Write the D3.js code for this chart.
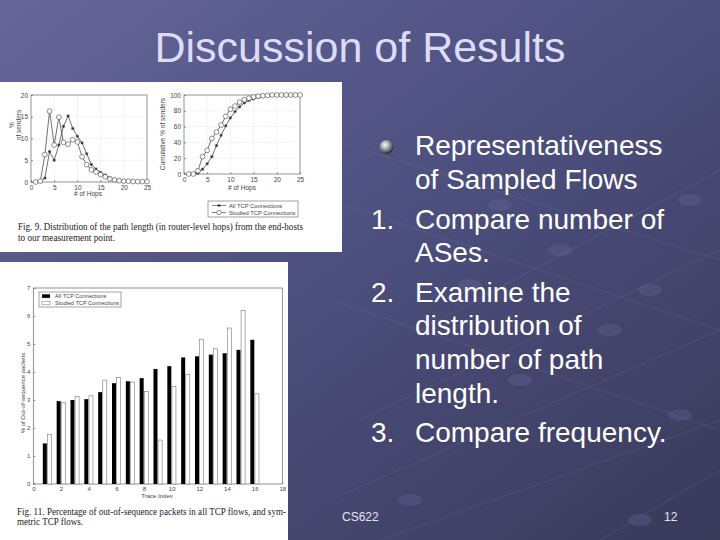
<!DOCTYPE html>
<html><head><meta charset="utf-8">
<script src="https://d3js.org/d3.v7.min.js"></script>
<style>html,body{margin:0;padding:0;background:#44466c;}svg{display:block;}</style>
</head><body>
<script>
// ---------- DATA ----------
const hops = [1,2,3,4,5,6,7,8,9,10,11,12,13,14,15,16,17,18,19,20,21,22,23,24,25];
const pdfAll =     [0,0.2,0.9,7.0,5.0,8.5,12.8,15.2,12.3,10.5,9.0,6.5,4.0,3.0,2.2,1.6,1.0,0.6,0.4,0.3,0.2,0.2,0.1,0.1,0.1];
const pdfStudied = [0,0.2,6.3,16.3,8.5,14.9,9.1,8.7,9.7,9.2,5.8,4.0,2.8,2.3,1.7,1.2,0.7,0.5,0.3,0.2,0.2,0.1,0.1,0.1,0.1];
const cdfAll =     [0,0,1,6,13,22,36,49,61,71,79,85,90,93,95,97,98,99,99.5,100,100,100,100,100,100];
const cdfStudied = [0,0,4,22,30,45,53,62,73,82,86,91,94,96,97.5,98.5,99,99.5,100,100,100,100,100,100,100];
const hopTicks = [0,5,10,15,20,25];
const pdfTicks = [0,5,10,15,20];
const cdfTicks = [0,20,40,60,80,100];
const seriesNames = ["All TCP Connections","Studied TCP Connections"];

const traceIdx = [1,2,3,4,5,6,7,8,9,10,11,12,13,14,15,16];
const barAll =     [1.45,2.96,3.0,3.03,3.28,3.6,3.67,3.78,4.11,4.21,4.52,4.56,4.62,4.67,4.79,5.15];
const barStudied = [1.77,2.92,3.13,3.15,3.71,3.81,3.64,3.31,1.57,3.49,3.92,5.17,4.83,5.57,6.19,3.22];
const traceTicks = [0,2,4,6,8,10,12,14,16,18];
const barTicks = [0,1,2,3,4,5,6,7];

const title = "Discussion of Results";
const bullets = [
  {num:"", lines:["Representativeness","of Sampled Flows"]},
  {num:"1.", lines:["Compare number of","ASes."]},
  {num:"2.", lines:["Examine the","distribution of","number of path","length."]},
  {num:"3.", lines:["Compare frequency."]}
];
const cap9 = ["Fig. 9.   Distribution of the path length (in router-level hops) from the end-hosts","to our measurement point."];
const cap11 = ["Fig. 11.   Percentage of out-of-sequence packets in all TCP flows, and sym-","metric TCP flows."];

// ---------- SVG ----------
const W=720,H=540;
const svg=d3.select("body").append("svg").attr("width",W).attr("height",H);
const defs=svg.append("defs");
const bg=defs.append("linearGradient").attr("id","bg").attr("x1",0).attr("y1",0).attr("x2",1).attr("y2",1);
bg.append("stop").attr("offset",0).attr("stop-color","#66669a");
bg.append("stop").attr("offset",0.45).attr("stop-color","#4e5080");
bg.append("stop").attr("offset",1).attr("stop-color","#383a5a");
svg.append("rect").attr("width",W).attr("height",H).attr("fill","url(#bg)");
const ball=defs.append("radialGradient").attr("id","ball").attr("cx",0.4).attr("cy",0.35).attr("r",0.65);
ball.append("stop").attr("offset",0).attr("stop-color","#ffffff");
ball.append("stop").attr("offset",0.5).attr("stop-color","#9a9aa4");
ball.append("stop").attr("offset",1).attr("stop-color","#2a2a32");

// faint decorative lines
const deco=svg.append("g").attr("stroke","#8a8cb8").attr("stroke-opacity",0.15).attr("stroke-width",1.2).attr("fill","none");
[[330,500,720,330],[360,420,720,250],[420,330,720,170],[380,540,720,420],[600,540,720,470],[330,200,720,330],[330,300,720,430],[300,130,720,260]].forEach(l=>{
  deco.append("line").attr("x1",l[0]).attr("y1",l[1]).attr("x2",l[2]).attr("y2",l[3]);
});
const dots=svg.append("g").attr("fill","#7c7fae").attr("fill-opacity",0.2);
[[410,500],[640,520],[520,380],[610,330],[470,285],[560,250],[680,415],[690,200],[500,205],[650,290]].forEach(p=>{
  dots.append("ellipse").attr("cx",p[0]).attr("cy",p[1]).attr("rx",12).attr("ry",6);
});

// title
svg.append("text").attr("x",360).attr("y",62).attr("text-anchor","middle")
  .attr("font-family","Liberation Sans, Arial, sans-serif").attr("font-size",43)
  .attr("fill","#dcdcf8").text(title);

// bullets
const baselines=[[155,189],[229,262],[302,335,369,403],[442]];
const bg2=svg.append("g").attr("font-family","Liberation Sans, Arial, sans-serif").attr("font-size",28).attr("fill","#ffffff");
bullets.forEach((b,i)=>{
  if(b.num) bg2.append("text").attr("x",371).attr("y",baselines[i][0]).text(b.num);
  else svg.append("circle").attr("cx",386.5).attr("cy",147).attr("r",7).attr("fill","url(#ball)");
  b.lines.forEach((t,j)=>bg2.append("text").attr("x",415).attr("y",baselines[i][j]).text(t));
});

// footer
const ft=svg.append("g").attr("font-family","Liberation Sans, Arial, sans-serif").attr("font-size",12).attr("fill","#e4e4f4");
ft.append("text").attr("x",342).attr("y",521).text("CS622");
ft.append("text").attr("x",664).attr("y",521).text("12");

// ---------- helper: matlab style axes ----------
const tickColor="#555", textColor="#444";
function frame(g,x,y,xt,yt,opts){
  const [x0,x1]=x.range(), [y0,y1]=y.range(); // y0 bottom
  if(opts.grid){
    const gg=g.append("g").attr("stroke","#c8c8c8").attr("stroke-width",0.5).attr("stroke-dasharray","1,1.5");
    xt.forEach(t=>{ if(t>x.domain()[0]&&t<x.domain()[1]) gg.append("line").attr("x1",x(t)).attr("x2",x(t)).attr("y1",y0).attr("y2",y1);});
    yt.forEach(t=>{ if(t>y.domain()[0]&&t<y.domain()[1]) gg.append("line").attr("y1",y(t)).attr("y2",y(t)).attr("x1",x0).attr("x2",x1);});
  }
  const fmt=d3.format("d");
  const ax=g.append("g").attr("transform",`translate(0,${y0})`).call(d3.axisBottom(x).tickValues(xt).tickFormat(fmt).tickSizeInner(-2).tickSizeOuter(0).tickPadding(3));
  const ay=g.append("g").attr("transform",`translate(${x0},0)`).call(d3.axisLeft(y).tickValues(yt).tickFormat(fmt).tickSizeInner(-2).tickSizeOuter(0).tickPadding(3));
  [ax,ay].forEach(a=>{
    a.select(".domain").remove();
    a.selectAll("line").attr("stroke",tickColor).attr("stroke-width",0.6);
    a.selectAll("text").attr("fill",textColor).attr("font-size",opts.fs||6.5).attr("font-family","Liberation Sans, Arial, sans-serif");
  });
  g.append("rect").attr("x",x0).attr("y",y1).attr("width",x1-x0).attr("height",y0-y1)
    .attr("fill","none").attr("stroke","#666").attr("stroke-width",0.7);
}
function star(g,cx,cy,r){
  for(let k=0;k<4;k++){
    const a=k*Math.PI/4;
    g.append("line").attr("x1",cx-r*Math.cos(a)).attr("y1",cy-r*Math.sin(a)).attr("x2",cx+r*Math.cos(a)).attr("y2",cy+r*Math.sin(a))
      .attr("stroke","#222").attr("stroke-width",0.7);
  }
}
function series(g,x,y,vals,kind){
  const line=d3.line().x((d,i)=>x(hops[i])).y(d=>y(d));
  g.append("path").datum(vals).attr("d",line).attr("fill","none").attr("stroke","#333").attr("stroke-width",0.7);
  vals.forEach((v,i)=>{
    if(kind==="star") star(g,x(hops[i]),y(v),1.6);
    else g.append("circle").attr("cx",x(hops[i])).attr("cy",y(v)).attr("r",2.4).attr("fill","#fff").attr("stroke","#444").attr("stroke-width",0.6);
  });
}

// ---------- FIG 9 ----------
svg.append("rect").attr("x",0).attr("y",82).attr("width",342).attr("height",170).attr("fill","#ffffff");
const f9=svg.append("g");
const xa=d3.scaleLinear().domain([0,25]).range([31,147]);
const ya=d3.scaleLinear().domain([0,20]).range([182,95]);
frame(f9,xa,ya,hopTicks,pdfTicks,{grid:true});
series(f9,xa,ya,pdfAll,"star");
series(f9,xa,ya,pdfStudied,"circle");
const lab={"font-family":"Liberation Sans, Arial, sans-serif","font-size":6.5,"fill":textColor};
function txt(g,x,y,s,rot,anchor){
  const t=g.append("text").attr("x",x).attr("y",y).attr("text-anchor",anchor||"middle").text(s);
  Object.entries(lab).forEach(([k,v])=>t.attr(k,v));
  if(rot) t.attr("transform",`rotate(-90,${x},${y})`);
  return t;
}
txt(f9,88,196,"# of Hops");
txt(f9,14,125,"%",true);
txt(f9,21,125,"of senders",true);

const xb=d3.scaleLinear().domain([0,25]).range([184,300]);
const yb=d3.scaleLinear().domain([0,100]).range([174,95]);
frame(f9,xb,yb,hopTicks,cdfTicks,{grid:true});
series(f9,xb,yb,cdfAll,"star");
series(f9,xb,yb,cdfStudied,"circle");
txt(f9,242,190,"# of Hops");
txt(f9,165,134,"Cumulative % of senders",true);

// legend fig 9
f9.append("rect").attr("x",208).attr("y",201).attr("width",90).attr("height",16).attr("fill","#fff").attr("stroke","#666").attr("stroke-width",0.6);
[0,1].forEach(i=>{
  const yy=205.5+i*7;
  f9.append("line").attr("x1",212).attr("x2",226).attr("y1",yy).attr("y2",yy).attr("stroke","#333").attr("stroke-width",0.6);
  if(i===0) star(f9,219,yy,1.5); else f9.append("circle").attr("cx",219).attr("cy",yy).attr("r",2.2).attr("fill","#fff").attr("stroke","#444").attr("stroke-width",0.6);
  txt(f9,229,yy+2,seriesNames[i],false,"start").attr("font-size",5.8);
});
// caption fig 9
const cg=svg.append("g").attr("font-family","Liberation Serif, Times New Roman, serif").attr("font-size",10).attr("fill","#222");
cg.append("text").attr("x",18).attr("y",230).attr("textLength",285).attr("lengthAdjust","spacingAndGlyphs").text(cap9[0]);
cg.append("text").attr("x",18).attr("y",241).attr("textLength",97).attr("lengthAdjust","spacingAndGlyphs").text(cap9[1]);

// ---------- FIG 11 ----------
svg.append("rect").attr("x",0).attr("y",262).attr("width",288).attr("height",278).attr("fill","#ffffff");
const f11=svg.append("g");
const xc=d3.scaleLinear().domain([0,18]).range([33.3,282.3]);
const yc=d3.scaleLinear().domain([0,7]).range([484,288]);
frame(f11,xc,yc,traceTicks,barTicks,{grid:false,fs:6});
const bw=xc(0.29)-xc(0);
f11.selectAll("rect.ba").data(traceIdx).enter().append("rect")
  .attr("x",d=>xc(d)-bw-0.3).attr("width",bw).attr("y",(d,i)=>yc(barAll[i])).attr("height",(d,i)=>yc(0)-yc(barAll[i]))
  .attr("fill","#000");
f11.selectAll("rect.bs").data(traceIdx).enter().append("rect")
  .attr("x",d=>xc(d)+0.3).attr("width",bw).attr("y",(d,i)=>yc(barStudied[i])).attr("height",(d,i)=>yc(0)-yc(barStudied[i]))
  .attr("fill","#fff").attr("stroke","#777").attr("stroke-width",0.6);
txt(f11,157,498,"Trace Index").attr("font-size",6);
txt(f11,25,393,"% of Out-of-sequence packets",true).attr("font-size",6);
// legend
f11.append("rect").attr("x",39).attr("y",292).attr("width",82).attr("height",15).attr("fill","#fff").attr("stroke","#666").attr("stroke-width",0.6);
f11.append("rect").attr("x",42).attr("y",294.3).attr("width",8).attr("height",3.6).attr("fill","#000");
f11.append("rect").attr("x",42).attr("y",301.2).attr("width",8).attr("height",3.6).attr("fill","#fff").attr("stroke","#777").attr("stroke-width",0.5);
txt(f11,55,297.8,seriesNames[0],false,"start").attr("font-size",5.6);
txt(f11,55,304.8,seriesNames[1],false,"start").attr("font-size",5.6);
// caption
const cg2=svg.append("g").attr("font-family","Liberation Serif, Times New Roman, serif").attr("font-size",10).attr("fill","#222");
cg2.append("text").attr("x",17).attr("y",515).attr("textLength",269).attr("lengthAdjust","spacingAndGlyphs").text(cap11[0]);
cg2.append("text").attr("x",17).attr("y",525).attr("textLength",66).attr("lengthAdjust","spacingAndGlyphs").text(cap11[1]);
</script>
</body></html>
